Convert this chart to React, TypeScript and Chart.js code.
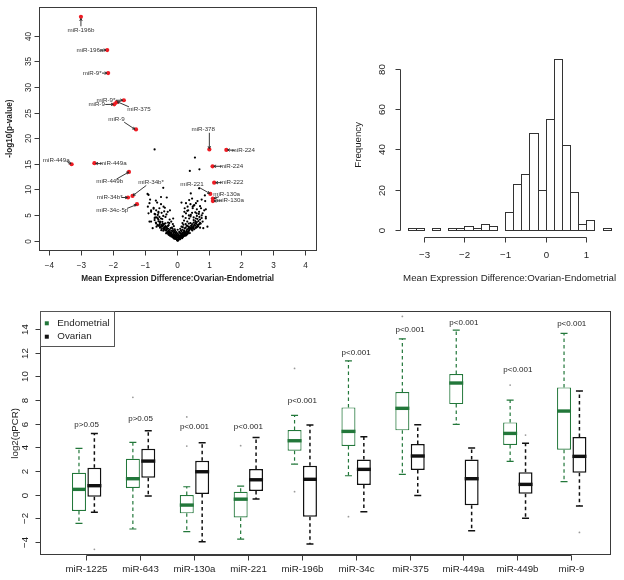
import React, { useEffect, useRef } from "react";
import { Chart, registerables } from "chart.js";
Chart.register(...registerables);

const FONT = '"Liberation Sans", Arial, Helvetica, sans-serif';
Chart.defaults.font.family = FONT;

// ---------------- Volcano plot data ----------------
const volcanoPoints: number[][] = [
  [-0.72,17.9],[0.54,16.3],[0.68,14.0],[0.38,13.7],[-0.45,10.4],[-0.94,9.2],[-0.34,8.5],[-0.86,8.1],[0.85,8.9],[0.86,7.8],[0.73,6.4],[0.45,8.3],[0.12,7.5],[0.88,6.2],
  [-0.91,9.0],[-0.52,8.6],[-0.88,7.4],[-0.64,7.5],[-0.83,6.0],[-0.91,5.4],[-0.72,5.3],[-0.57,6.4],[-0.62,4.4],[-0.83,3.8],[-0.67,3.4],[-0.51,3.1],
  [0.41,9.3],[0.67,10.3],[0.75,8.1],[0.57,7.4],[0.36,8.0],[0.31,6.7],[0.47,6.4],[0.67,5.7],[0.83,6.0],[0.88,4.4],[0.72,3.4],[0.57,4.4],[0.41,5.1],[0.26,5.4],[0.93,2.8],
  [0.88,4.7],[0.78,3.8],[0.62,2.8],[0.80,2.5],[0.59,5.4],[0.47,6.7],[0.26,7.4],[0.21,5.7],[0.36,4.4],
  [-0.93,6.7],[-0.83,5.7],[-0.67,6.0],[-0.57,4.7],[-0.72,4.1],[-0.88,3.8],[-0.62,3.1],[-0.47,3.4],[-0.38,4.7],[-0.44,6.7],[-0.31,5.7],[-0.78,2.5],[-0.51,2.1],[-0.62,5.1],
  [0.15,3.5],[0.2,4.0],[0.25,4.5],[0.3,3.8],[0.35,5.0],[0.45,5.5],[0.5,4.6],[0.55,3.9],[0.6,4.9],[0.65,3.2],[0.7,4.2],[0.12,2.8],[0.18,3.2],[0.28,3.0],[0.4,3.5],[0.48,2.6],[0.7,2.6],[0.75,5.0],[0.33,6.0],[0.22,6.4],[0.16,4.8],[0.52,7.0],[0.62,7.8],[0.4,7.2],
  [-0.15,3.3],[-0.2,3.8],[-0.25,4.2],[-0.3,3.6],[-0.35,5.2],[-0.42,5.8],[-0.48,4.3],[-0.55,3.8],[-0.6,5.5],[-0.66,2.8],[-0.7,4.6],[-0.12,2.9],[-0.18,2.6],[-0.28,3.1],[-0.4,2.7],[-0.75,6.5],[-0.52,7.2],[-0.24,6.0],[-0.14,4.4],[-0.68,7.9],
  [0,0.05],[0.02,0.2],[-0.02,0.15],[0.04,0.3],[-0.04,0.35],[0.06,0.45],[-0.06,0.5],[0.01,0.1],[-0.01,0.25],[0.03,0.4],
  [-0.1,0.7],[0.1,0.75],[-0.08,0.9],[0.09,0.95],[-0.12,0.6],[0.13,0.65],[0.07,0.85],[-0.05,0.8],[0.15,0.9],[-0.15,0.95],
  [-0.18,1.1],[0.18,1.15],[-0.2,1.3],[0.21,1.35],[-0.1,1.2],[0.12,1.25],[-0.25,1.45],[0.25,1.4],[0.05,1.1],[-0.03,1.3],
  [-0.28,1.6],[0.3,1.7],[-0.32,1.85],[0.33,1.9],[-0.22,1.7],[0.2,1.8],[-0.15,1.9],[0.15,1.6],[0.38,1.55],[-0.36,1.5],
  [-0.35,2.1],[0.36,2.2],[-0.4,2.3],[0.42,2.4],[-0.3,2.4],[0.28,2.1],[-0.45,2.0],[0.46,2.05],[0.22,2.45],[-0.25,2.2],
  [-0.42,2.6],[0.45,2.7],[-0.48,2.85],[0.5,2.9],[-0.35,2.75],[0.38,2.6],[-0.55,2.6],[0.55,2.55],[0.3,2.95],[-0.3,2.95],
  [-0.5,3.1],[0.52,3.2],[-0.56,3.3],[0.58,3.35],[-0.44,3.2],[0.44,3.05],[0.62,3.1],[-0.62,3.05],[0.35,3.4],[-0.38,3.45],
  [-0.55,3.6],[0.6,3.7],[-0.6,3.85],[0.65,3.9],[0.5,3.6],[-0.48,3.75],[0.7,3.55],[-0.68,3.6],
  [-0.6,4.2],[0.62,4.3],[-0.65,4.6],[0.68,4.7],[0.5,4.1],[-0.52,4.4],[0.75,4.5],[-0.72,4.5],[0.4,4.8],[-0.45,4.9],
  [-0.7,5.2],[0.66,5.3],[0.55,5.6],[-0.6,5.7],[0.78,5.4],[0.3,5.9],[-0.5,5.5],
  [0.6,6.2],[-0.75,6.3],[0.7,6.8],[-0.4,6.5],[0.5,6.9],
  [-0.08,0.4],[0.08,0.35],[-0.12,0.5],[0.14,0.55],[-0.16,0.75],[0.17,0.8],[-0.2,0.9],[0.22,1.0],[-0.24,1.05],[0.26,1.1],[-0.28,1.2],[0.29,1.25],[-0.3,1.4],[0.32,1.45],[-0.06,0.6],[0.05,0.65],[-0.1,1.0],[0.1,1.05],[0.0,0.7],[0.0,1.0],[-0.2,1.5],[0.22,1.55],[-0.12,1.6],[0.1,1.4],[0.0,1.5],[-0.26,1.8],[0.27,1.85],[-0.08,2.0],[0.1,2.1],[-0.33,2.5],[0.34,2.5],
  [-0.03,0.55],[0.03,0.6],[-0.07,0.75],[0.07,0.7],[-0.11,0.85],[0.11,0.88],[-0.14,1.05],[0.14,1.02],[-0.17,1.25],[0.16,1.3],[-0.05,1.05],[0.04,0.95],[-0.22,1.15],[0.23,1.2],[-0.26,1.3],[0.27,1.35],[-0.13,1.4],[0.14,1.45],[-0.07,1.6],[0.06,1.65],
  [-0.19,1.65],[0.18,1.6],[-0.24,1.6],[0.25,1.7],[-0.3,1.75],[0.32,1.8],[-0.2,2.0],[0.2,2.05],[-0.14,2.1],[0.15,2.2],[-0.28,2.0],[0.3,2.3],[-0.34,2.3],[0.38,2.35],[-0.4,2.5],[0.41,2.55],[-0.22,2.5],[0.25,2.6],[-0.16,2.4],[0.16,2.7],
  [-0.45,2.45],[0.48,2.4],[0.35,2.8],[-0.38,2.9],[0.42,2.95],[-0.46,3.0],[0.55,3.0],[-0.52,2.75],[0.6,2.75],[0.25,3.3],[-0.26,3.5],[0.45,3.3],[-0.42,3.35],[0.55,3.5],[0.05,1.8],[-0.04,1.75],[0.02,1.25],[-0.06,1.4],[0.08,1.55],[-0.1,1.8],
  [0.12,1.9],[0.0,2.2],[-0.09,2.3],[0.08,2.4],[0.32,1.6],[-0.34,1.65],[0.36,2.0],[-0.38,2.05],[0.44,2.2],[-0.43,2.2],[0.52,2.3],[-0.5,2.35],[0.58,2.6],[0.64,2.9],[0.68,3.3],[-0.58,2.95],
];

// highlighted (significant) miRNAs
const sigX = [-3.02, -2.20, -2.17, -1.68, -1.91, -1.98, -1.30, 0.99, 1.52, 1.09, -3.31, -2.60, -1.52, 1.14, 1.02, 1.10, 1.10, -1.41, -1.55, -1.27];
const sigY = [43.8, 37.3, 32.8, 27.5, 27.1, 26.7, 21.8, 17.9, 17.8, 14.6, 15.0, 15.2, 13.5, 11.4, 9.2, 8.3, 7.8, 8.8, 8.5, 7.2];

// annotation labels (data units) and arrows
const annText = ["miR-196b","miR-196a","miR-9*","miR-9*","miR-9","miR-375","miR-9","miR-378","miR-224","miR-224","miR-449a","miR-449a","miR-449b","miR-222","miR-221","miR-130a","miR-130a","miR-34b*","miR-34b*","miR-34c-5p"];
const annLabelX = [-3.02,-2.74,-2.67,-2.24,-2.53,-1.21,-1.91,0.80,2.05,1.68,-3.79,-2.01,-2.12,1.69,0.45,1.53,1.65,-0.83,-2.12,-2.04];
const annLabelY = [41.18,37.27,32.78,27.51,26.67,25.69,23.74,21.85,17.69,14.63,15.74,15.09,11.58,11.38,11.12,9.17,7.87,11.38,8.52,5.92];
const annFromX = [-3.02,-2.43,-2.36,-1.93,-2.26,-1.52,-1.67,0.99,1.78,1.38,-3.46,-2.36,-1.91,1.38,0.67,1.29,1.37,-0.98,-1.76,-1.58];
const annFromY = [41.95,37.3,32.8,27.5,26.67,26.21,23.22,21.14,17.7,14.6,15.54,15.1,12.1,11.4,10.47,8.65,7.85,10.86,8.5,6.37];
const annToX = [-3.02,-2.24,-2.21,-1.72,-2.01,-1.88,-1.34,0.99,1.56,1.13,-3.33,-2.56,-1.53,1.19,1.00,1.14,1.14,-1.39,-1.57,-1.29];
const annToY = [43.45,37.3,32.8,27.5,26.7,27.19,21.85,18.08,17.8,14.6,15.09,15.15,13.46,11.4,9.30,8.33,7.82,8.91,8.5,7.09];

const volcanoXTicks = [-4, -3, -2, -1, 0, 1, 2, 3, 4];
const volcanoYTicks = [0, 5, 10, 15, 20, 25, 30, 35, 40];

// ---------------- Histogram data ----------------
const histBreaks = [-3.4,-3.2,-3.0,-2.8,-2.6,-2.4,-2.2,-2.0,-1.8,-1.6,-1.4,-1.2,-1.0,-0.8,-0.6,-0.4,-0.2,0,0.2,0.4,0.6,0.8,1.0,1.2,1.4,1.6];
const histCounts = [1,1,0,1,0,1,1,2,1,3,2,0,9,23,28,48,20,55,85,42,19,3,5,0,1];
const histXTicks = [-3, -2, -1, 0, 1];
const histYTicks = [0, 20, 40, 60, 80];

// ---------------- Boxplot data ----------------
const mirnas = ["miR-1225","miR-643","miR-130a","miR-221","miR-196b","miR-34c","miR-375","miR-449a","miR-449b","miR-9"];
const endoLower = [-2.39,-2.87,-3.1,-3.72,2.62,1.63,1.75,5.97,2.85,1.13];
const endoQ1 = [-1.35,0.59,-1.55,-1.9,3.75,4.14,5.47,7.69,4.23,3.83];
const endoMedian = [0.48,1.38,-0.85,-0.35,4.59,5.38,7.33,9.47,5.21,7.10];
const endoQ3 = [1.89,3.07,0.0,0.28,5.49,7.41,8.71,10.23,6.14,9.10];
const endoUpper = [3.95,4.45,0.7,0.76,6.74,11.35,13.21,13.95,8.03,13.67];
const endoOutliers = [[],[8.26],[6.6,4.14],[4.17],[10.7,0.28],[-1.83],[15.1],[],[9.3],[]];
const ovarLower = [-1.46,-0.08,-3.95,-0.34,-4.14,-1.41,-0.03,-3.01,-1.97,-0.93];
const ovarQ1 = [-0.14,1.47,0.08,0.34,-1.83,0.85,2.11,-0.87,0.11,1.89];
const ovarMedian = [0.79,2.87,1.97,1.29,1.33,2.17,3.30,1.38,0.90,3.27];
const ovarQ3 = [2.31,3.92,2.9,2.2,2.48,3.01,4.31,3.01,1.92,4.90];
const ovarUpper = [5.21,5.44,4.42,4.87,5.92,4.93,5.95,3.97,4.37,8.79];
const ovarOutliers = [[-4.59],[],[],[],[],[],[],[],[5.07],[-3.16]];
const pLabels = ["p>0.05","p>0.05","p<0.001","p<0.001","p<0.001","p<0.001","p<0.001","p<0.001","p<0.001","p<0.001"];
const pLabelY = [5.95,6.48,5.78,5.78,7.97,12.06,13.95,14.57,10.57,14.45];
const boxYTicks = [-4, -2, 0, 2, 4, 6, 8, 10, 12, 14];

const GREEN = "#22773a";
const AXIS = "#3a3a3a";
const TEXT = "#1e1e1e";

const fmt = (v: number) => (v < 0 ? "\u2212" + Math.abs(v) : String(v));
const snap = (v: number) => Math.round(v - 0.5) + 0.5;

type AxisSpec = {
  ticks: number[];
  labels: string[];
  tickLen: number;
  labelOff: number;
  font: string;
  title?: string;
  titleOff?: number;
  titleFont?: string;
};

function axesPlugin(id: string, box: boolean, xs: AxisSpec, ysp: AxisSpec) {
  return {
    id,
    afterDraw(chart: any) {
      const { ctx, chartArea: a } = chart;
      const sx = chart.scales.x;
      const sy = chart.scales.y;
      ctx.save();
      ctx.strokeStyle = AXIS;
      ctx.lineWidth = 1;
      ctx.fillStyle = TEXT;
      if (box) {
        ctx.strokeRect(snap(a.left), snap(a.top), Math.round(a.right - a.left), Math.round(a.bottom - a.top));
      }
      const xb = snap(a.bottom);
      const xp = xs.ticks.map((v) => snap(sx.getPixelForValue(v)));
      ctx.beginPath();
      ctx.moveTo(xp[0], xb);
      ctx.lineTo(xp[xp.length - 1], xb);
      xp.forEach((p) => {
        ctx.moveTo(p, xb);
        ctx.lineTo(p, xb + xs.tickLen);
      });
      ctx.stroke();
      ctx.font = xs.font;
      ctx.textAlign = "center";
      ctx.textBaseline = "middle";
      xp.forEach((p, i) => ctx.fillText(xs.labels[i], p, a.bottom + xs.labelOff));
      if (xs.title) {
        ctx.font = xs.titleFont;
        ctx.fillText(xs.title, (a.left + a.right) / 2, a.bottom + (xs.titleOff || 0));
      }
      const yl = snap(a.left);
      const yp = ysp.ticks.map((v) => snap(sy.getPixelForValue(v)));
      ctx.beginPath();
      ctx.moveTo(yl, yp[0]);
      ctx.lineTo(yl, yp[yp.length - 1]);
      yp.forEach((p) => {
        ctx.moveTo(yl, p);
        ctx.lineTo(yl - ysp.tickLen, p);
      });
      ctx.stroke();
      ctx.font = ysp.font;
      yp.forEach((p, i) => {
        ctx.save();
        ctx.translate(a.left - ysp.labelOff, p);
        ctx.rotate(-Math.PI / 2);
        ctx.fillText(ysp.labels[i], 0, 0);
        ctx.restore();
      });
      if (ysp.title) {
        ctx.font = ysp.titleFont;
        ctx.save();
        ctx.translate(a.left - (ysp.titleOff || 0), (a.top + a.bottom) / 2);
        ctx.rotate(-Math.PI / 2);
        ctx.fillText(ysp.title, 0, 0);
        ctx.restore();
      }
      ctx.restore();
    },
  };
}

const baseOptions = (padding: any) => ({
  responsive: false,
  animation: false as const,
  devicePixelRatio: 1,
  events: [] as any[],
  layout: { padding },
  plugins: { legend: { display: false }, tooltip: { enabled: false }, title: { display: false } },
});

// ---------------- Volcano ----------------
function makeVolcano(): any {
  const annotate = {
    id: "volcanoAnnotations",
    afterDatasetsDraw(chart: any) {
      const { ctx } = chart;
      const sx = chart.scales.x;
      const sy = chart.scales.y;
      ctx.save();
      ctx.strokeStyle = "#222";
      ctx.fillStyle = "#333";
      ctx.lineWidth = 0.9;
      ctx.font = `6.2px ${FONT}`;
      ctx.textAlign = "center";
      ctx.textBaseline = "middle";
      annText.forEach((t, i) => {
        const fx = sx.getPixelForValue(annFromX[i]);
        const fy = sy.getPixelForValue(annFromY[i]);
        const tx = sx.getPixelForValue(annToX[i]);
        const ty = sy.getPixelForValue(annToY[i]);
        const ang = Math.atan2(ty - fy, tx - fx);
        const L = 2.6;
        ctx.beginPath();
        ctx.moveTo(fx, fy);
        ctx.lineTo(tx, ty);
        ctx.moveTo(tx - L * Math.cos(ang - Math.PI / 6), ty - L * Math.sin(ang - Math.PI / 6));
        ctx.lineTo(tx, ty);
        ctx.lineTo(tx - L * Math.cos(ang + Math.PI / 6), ty - L * Math.sin(ang + Math.PI / 6));
        ctx.stroke();
        ctx.fillText(t, sx.getPixelForValue(annLabelX[i]), sy.getPixelForValue(annLabelY[i]));
      });
      ctx.restore();
    },
  };
  const sig = sigX.map((x, i) => ({ x, y: sigY[i] }));
  return {
    type: "scatter",
    data: {
      datasets: [
        { data: volcanoPoints.map(([x, y]) => ({ x, y })), pointRadius: 1.1, backgroundColor: "#000", borderWidth: 0 },
        { data: sig, pointRadius: 2.1, backgroundColor: "#ee1c24", borderWidth: 0 },
        { data: sig, pointRadius: 0.8, backgroundColor: "#000", borderWidth: 0 },
      ],
    },
    options: {
      ...baseOptions({ left: 39.3, top: 7.3, right: 2.3, bottom: 40 }),
      scales: {
        x: { type: "linear", display: false, min: -4.32, max: 4.32 },
        y: { type: "linear", display: false, min: -1.756, max: 45.66 },
      },
    },
    plugins: [
      annotate,
      axesPlugin(
        "volcanoAxes",
        true,
        { ticks: volcanoXTicks, labels: volcanoXTicks.map(fmt), tickLen: 5, labelOff: 15.7, font: `8.2px ${FONT}`, title: "Mean Expression Difference:Ovarian-Endometrial", titleOff: 29, titleFont: `bold 8.2px ${FONT}` },
        { ticks: volcanoYTicks, labels: volcanoYTicks.map(fmt), tickLen: 5, labelOff: 11, font: `8.2px ${FONT}`, title: "-log10(p-value)", titleOff: 29.3, titleFont: `bold 8.2px ${FONT}` }
      ),
    ],
  };
}

// ---------------- Histogram ----------------
function makeHistogram(): any {
  const outline = {
    id: "histOutline",
    afterDatasetsDraw(chart: any) {
      const { ctx } = chart;
      const meta = chart.getDatasetMeta(0);
      ctx.save();
      ctx.strokeStyle = "#333";
      ctx.lineWidth = 1;
      meta.data.forEach((el: any, i: number) => {
        if (!histCounts[i]) return;
        const l = snap(el.x - el.width / 2);
        const r = snap(el.x + el.width / 2);
        const t = snap(el.y);
        const b = snap(el.base);
        ctx.strokeRect(l, t, r - l, b - t);
      });
      ctx.restore();
    },
  };
  return {
    type: "bar",
    data: {
      datasets: [
        {
          data: histCounts.map((c, i) => ({ x: (histBreaks[i] + histBreaks[i + 1]) / 2, y: c })),
          backgroundColor: "#ffffff",
          borderWidth: 0,
          barPercentage: 1,
          categoryPercentage: 1,
        },
      ],
    },
    options: {
      ...baseOptions({ left: 80, top: 52.4, right: 4.75, bottom: 52.65 }),
      scales: {
        x: { type: "linear", display: false, min: -3.6, max: 1.8, offset: false },
        y: { type: "linear", display: false, min: -3.4, max: 88.4 },
      },
    },
    plugins: [
      outline,
      axesPlugin(
        "histAxes",
        false,
        { ticks: histXTicks, labels: histXTicks.map(fmt), tickLen: 5, labelOff: 17.6, font: `9.7px ${FONT}`, title: "Mean Expression Difference:Ovarian-Endometrial", titleOff: 41, titleFont: `9.7px ${FONT}` },
        { ticks: histYTicks, labels: histYTicks.map(fmt), tickLen: 5, labelOff: 17.3, font: `9.7px ${FONT}`, title: "Frequency", titleOff: 41.7, titleFont: `9.7px ${FONT}` }
      ),
    ],
  };
}

// ---------------- Boxplot ----------------
function makeBoxplot(): any {
  const groups = [
    { lower: endoLower, q1: endoQ1, med: endoMedian, q3: endoQ3, upper: endoUpper, out: endoOutliers, color: GREEN, lw: 1.2 },
    { lower: ovarLower, q1: ovarQ1, med: ovarMedian, q3: ovarQ3, upper: ovarUpper, out: ovarOutliers, color: "#111", lw: 1.5 },
  ];
  const boxes = {
    id: "boxParts",
    afterDatasetsDraw(chart: any) {
      const { ctx } = chart;
      const sy = chart.scales.y;
      const py = (v: number) => sy.getPixelForValue(v);
      ctx.save();
      groups.forEach((g, di) => {
        const meta = chart.getDatasetMeta(di);
        meta.data.forEach((el: any, i: number) => {
          const x = el.x;
          const w = el.width;
          ctx.strokeStyle = g.color;
          ctx.lineWidth = g.lw;
          ctx.setLineDash([3.5, 3]);
          ctx.beginPath();
          ctx.moveTo(x, py(g.q3[i]));
          ctx.lineTo(x, py(g.upper[i]));
          ctx.moveTo(x, py(g.q1[i]));
          ctx.lineTo(x, py(g.lower[i]));
          ctx.stroke();
          ctx.setLineDash([]);
          ctx.beginPath();
          ctx.moveTo(x - w / 4, py(g.upper[i]));
          ctx.lineTo(x + w / 4, py(g.upper[i]));
          ctx.moveTo(x - w / 4, py(g.lower[i]));
          ctx.lineTo(x + w / 4, py(g.lower[i]));
          ctx.stroke();
          ctx.lineWidth = 3.4;
          ctx.beginPath();
          ctx.moveTo(x - w / 2, py(g.med[i]));
          ctx.lineTo(x + w / 2, py(g.med[i]));
          ctx.stroke();
          ctx.fillStyle = "#9a9a9a";
          g.out[i].forEach((v: number) => {
            ctx.beginPath();
            ctx.arc(x, py(v), 0.9, 0, Math.PI * 2);
            ctx.fill();
          });
        });
      });
      const sx = chart.scales.x;
      ctx.fillStyle = TEXT;
      ctx.font = `8px ${FONT}`;
      ctx.textAlign = "center";
      ctx.textBaseline = "middle";
      pLabels.forEach((t, i) => ctx.fillText(t, sx.getPixelForValue(i + 1), py(pLabelY[i])));
      ctx.restore();
    },
  };
  const legend = {
    id: "boxLegend",
    afterDraw(chart: any) {
      const { ctx, chartArea: a } = chart;
      const l = snap(a.left);
      const t = snap(a.top);
      ctx.save();
      ctx.fillStyle = "#fff";
      ctx.fillRect(l, t, 74, 35);
      ctx.strokeStyle = "#555";
      ctx.lineWidth = 1;
      ctx.strokeRect(l, t, 74, 35);
      ctx.font = `9.8px ${FONT}`;
      ctx.textAlign = "left";
      ctx.textBaseline = "middle";
      chart.data.datasets.forEach((ds: any, i: number) => {
        const cy = a.top + 11.6 + i * 13.4;
        ctx.fillStyle = i === 0 ? GREEN : "#111";
        ctx.fillRect(a.left + 4.8, cy - 2, 4, 4);
        ctx.fillStyle = TEXT;
        ctx.fillText(ds.label, a.left + 17.3, cy);
      });
      ctx.restore();
    },
  };
  return {
    type: "bar",
    data: {
      datasets: [
        {
          label: "Endometrial",
          data: mirnas.map((_, i) => ({ x: i + 1, y: [endoQ1[i], endoQ3[i]] })),
          backgroundColor: "#fff",
          borderColor: GREEN,
          borderWidth: 1.2,
          borderSkipped: false,
          barPercentage: 0.909,
          categoryPercentage: 0.5714,
        },
        {
          label: "Ovarian",
          data: mirnas.map((_, i) => ({ x: i + 1, y: [ovarQ1[i], ovarQ3[i]] })),
          backgroundColor: "#fff",
          borderColor: "#111",
          borderWidth: 1.5,
          borderSkipped: false,
          barPercentage: 0.909,
          categoryPercentage: 0.5714,
        },
      ],
    },
    options: {
      ...baseOptions({ left: 40, top: 21.7, right: 14, bottom: 25 }),
      scales: {
        x: { type: "linear", display: false, min: 0.134, max: 10.71, offset: false },
        y: { type: "linear", display: false, min: -5.07, max: 15.5 },
      },
    },
    plugins: [
      boxes,
      axesPlugin(
        "boxAxes",
        true,
        { ticks: mirnas.map((_, i) => i + 1), labels: mirnas, tickLen: 5, labelOff: 14.3, font: `9.7px ${FONT}` },
        { ticks: boxYTicks, labels: boxYTicks.map(fmt), tickLen: 5, labelOff: 14.3, font: `9.7px ${FONT}`, title: "log2(qPCR)", titleOff: 25, titleFont: `9.7px ${FONT}` }
      ),
      legend,
    ],
  };
}

function ChartBox(props: { left: number; top: number; width: number; height: number; make: () => any }) {
  const ref = useRef<HTMLCanvasElement>(null);
  useEffect(() => {
    const chart = new Chart(ref.current as HTMLCanvasElement, props.make());
    return () => chart.destroy();
  }, []);
  return (
    <canvas
      ref={ref}
      width={props.width}
      height={props.height}
      style={{ position: "absolute", left: props.left, top: props.top, width: props.width, height: props.height }}
    />
  );
}

export default function App() {
  return (
    <div style={{ position: "absolute", left: 0, top: 0, width: 624, height: 580, background: "#fff", overflow: "hidden" }}>
      <ChartBox left={0} top={0} width={320} height={290} make={makeVolcano} />
      <ChartBox left={320} top={0} width={304} height={290} make={makeHistogram} />
      <ChartBox left={0} top={290} width={624} height={290} make={makeBoxplot} />
    </div>
  );
}
